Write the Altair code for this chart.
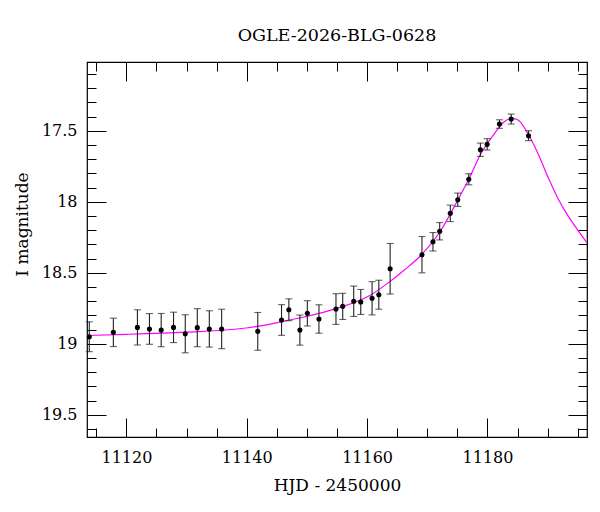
import altair as alt
import pandas as pd

# Photometry: heliocentric Julian date (minus 2450000), I-band magnitude and 1-sigma error
hjd = [11113.83, 11117.83, 11121.83, 11123.83, 11125.78, 11127.83, 11129.78, 11131.78,
       11133.78, 11135.83, 11141.83, 11145.78, 11147.00, 11148.83, 11150.07, 11152.00,
       11154.83, 11155.95, 11157.78, 11158.95, 11160.83, 11161.95, 11163.83, 11169.12,
       11170.95, 11172.07, 11173.83, 11175.07, 11176.90, 11178.83, 11179.95, 11182.00,
       11183.95, 11186.83]
mag = [18.951, 18.920, 18.885, 18.896, 18.904, 18.885, 18.930, 18.887,
       18.896, 18.896, 18.913, 18.833, 18.761, 18.904, 18.786, 18.826,
       18.756, 18.737, 18.701, 18.706, 18.680, 18.655, 18.472, 18.373,
       18.282, 18.208, 18.082, 17.986, 17.842, 17.634, 17.596, 17.453,
       17.418, 17.535]
err = [0.105, 0.100, 0.124, 0.108, 0.117, 0.107, 0.134, 0.134,
       0.128, 0.139, 0.133, 0.108, 0.077, 0.106, 0.089, 0.100,
       0.108, 0.092, 0.107, 0.088, 0.117, 0.102, 0.178, 0.128,
       0.065, 0.061, 0.058, 0.047, 0.039, 0.047, 0.040, 0.030,
       0.035, 0.035]

# Microlensing model light curve
model_day = [11113.45, 11120.0, 11130.0, 11138.0, 11142.0, 11146.0, 11149.5, 11155.0,
             11160.6, 11163.4, 11166.2, 11169.0, 11172.3, 11175.1, 11176.9, 11178.95,
             11181.2, 11182.8, 11184.1, 11185.1, 11186.7, 11188.4, 11190.1, 11191.7,
             11193.4, 11195.1, 11196.55]
model_mag = [18.942, 18.934, 18.918, 18.898, 18.876, 18.843, 18.812, 18.751,
             18.657, 18.575, 18.481, 18.375, 18.199, 17.986, 17.842, 17.659,
             17.518, 17.437, 17.413, 17.425, 17.518, 17.660, 17.830, 17.975,
             18.100, 18.205, 18.289]

# Axis ranges and ticks
x_domain = [11113.45, 11196.55]
y_domain = [17.016, 19.657]
x_major = [11120, 11140, 11160, 11180]
y_major = [17.5, 18.0, 18.5, 19.0, 19.5]
x_all_ticks = [11115 + 5 * i for i in range(17)]
y_all_ticks = [round(17.1 + 0.1 * i, 1) for i in range(26)]

FONT = "DejaVu Serif"
W, H = 500, 375

obs = pd.DataFrame({"hjd": hjd, "mag": mag, "err": err})
model = pd.DataFrame({"day": model_day, "mag": model_mag})

x_scale = alt.Scale(domain=x_domain, nice=False, zero=False)
y_scale = alt.Scale(domain=y_domain, reverse=True, nice=False, zero=False)

x_tick_size = {"condition": {"test": "datum.value % 20 == 0", "value": 19}, "value": 9}
y_tick_size = {"condition": {"test": "abs(datum.value * 2 - round(datum.value * 2)) < 0.001",
                             "value": 19}, "value": 9}


def tick_axis(orient, values, size, offset):
    # inward-pointing tick marks: an axis of the opposite side pushed across the plot
    return alt.Axis(orient=orient, values=values, tickSize=size, offset=offset,
                    labels=False, domain=False, grid=False, title=None,
                    tickColor="black", tickWidth=1)


x_label_axis = alt.Axis(orient="bottom", values=x_major, format="d", ticks=False,
                        domain=False, grid=False, labelPadding=12, labelFontSize=16,
                        title="HJD - 2450000", titleFontSize=17, titleBaseline="alphabetic",
                        titleY=53, titleX=W / 2)
y_label_axis = alt.Axis(orient="left", values=y_major, format="~g", ticks=False,
                        domain=False, grid=False, labelPadding=10, labelFontSize=16,
                        title="I magnitude", titleFontSize=17, titleBaseline="alphabetic",
                        titleAngle=-90, titleX=-60, titleY=162, titleAlign="center")

curve = alt.Chart(model).mark_line(
    color="#ff00ff", strokeWidth=1.2, clip=True, interpolate="monotone"
).encode(
    x=alt.X("day:Q", scale=x_scale, axis=x_label_axis),
    y=alt.Y("mag:Q", scale=y_scale, axis=y_label_axis),
)

bars = alt.Chart(obs).transform_calculate(
    lo="datum.mag - datum.err", hi="datum.mag + datum.err"
).mark_rule(color="#222222", strokeWidth=1.1).encode(
    x=alt.X("hjd:Q", scale=x_scale, axis=tick_axis("top", x_all_ticks, x_tick_size, -H)),
    y=alt.Y("lo:Q", scale=y_scale, axis=tick_axis("right", y_all_ticks, y_tick_size, -W)),
    y2="hi:Q",
)

caps = alt.Chart(obs).transform_calculate(
    lo="datum.mag - datum.err", hi="datum.mag + datum.err"
).transform_fold(["lo", "hi"], as_=["end", "edge"]).mark_tick(
    orient="horizontal", size=7, thickness=1.1, color="#222222"
).encode(
    x=alt.X("hjd:Q", scale=x_scale, axis=tick_axis("bottom", x_all_ticks, x_tick_size, -H)),
    y=alt.Y("edge:Q", scale=y_scale, axis=tick_axis("left", y_all_ticks, y_tick_size, -W)),
)

points = alt.Chart(obs).mark_circle(size=26, color="black", opacity=1).encode(
    x=alt.X("hjd:Q", scale=x_scale, axis=None),
    y=alt.Y("mag:Q", scale=y_scale, axis=None),
)

chart = alt.layer(curve, bars, caps, points).resolve_axis(
    x="independent", y="independent"
).properties(
    width=W,
    height=H,
    autosize=alt.AutoSizeParams(type="none"),
    padding={"left": 87, "top": 62, "right": 13, "bottom": 75},
    background="white",
    title=alt.Title("OGLE-2026-BLG-0628", font=FONT, fontSize=17.5, fontWeight="normal",
                    color="black", anchor="middle", frame="group", baseline="alphabetic",
                    offset=3),
).configure_view(
    stroke="black", strokeWidth=1.2
).configure_axis(
    labelFont=FONT, titleFont=FONT, labelColor="black", titleColor="black",
    titleFontWeight="normal"
)

chart.save("out.html", embed_options={"renderer": "svg", "actions": False})
